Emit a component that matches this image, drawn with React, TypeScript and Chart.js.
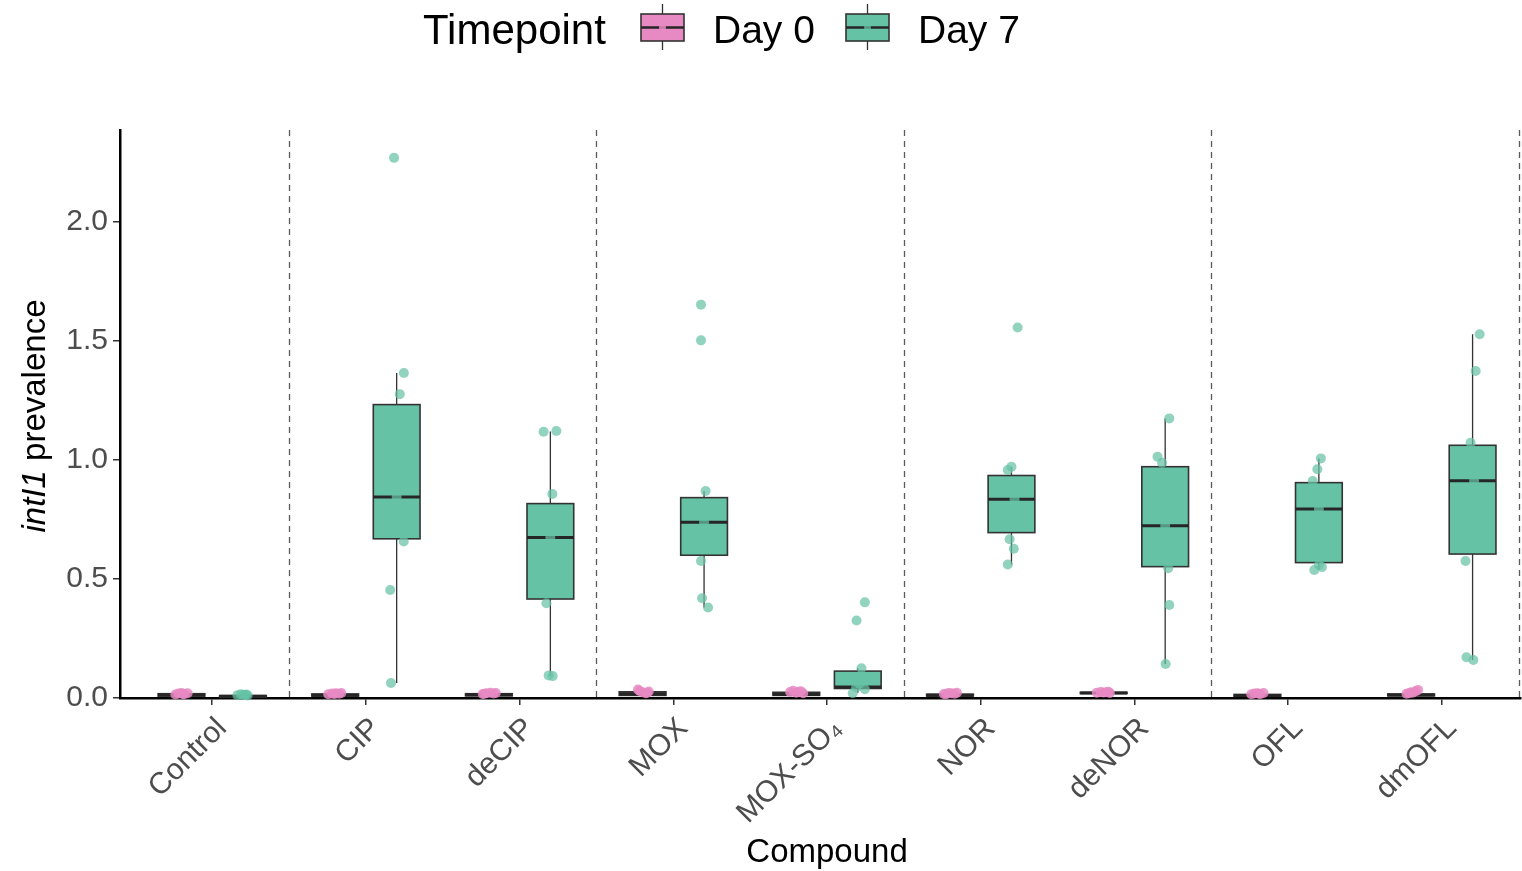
import React, { useEffect, useRef } from 'react';
import { Chart, registerables } from 'chart.js';

Chart.register(...registerables);

const FONT = '"Liberation Sans", Arial, Helvetica, sans-serif';

// Categories and axis ticks
const compounds = ['Control', 'CIP', 'deCIP', 'MOX', 'MOX-SO\u2084', 'NOR', 'deNOR', 'OFL', 'dmOFL'];
const yTickValues = [0, 0.5, 1, 1.5, 2];
const separators = [0.5, 2.5, 4.5, 6.5, 8.5];
const timepoints = ['Day 0', 'Day 7'];

// Day 0 box statistics (per compound)
const day0Low = [0.005, 0.005, 0.006, 0.007, 0.007, 0.005, 0.016, 0.004, 0.006];
const day0Q1 = [0.008, 0.008, 0.009, 0.011, 0.011, 0.008, 0.019, 0.007, 0.009];
const day0Median = [0.013, 0.012, 0.014, 0.018, 0.016, 0.012, 0.021, 0.011, 0.013];
const day0Q3 = [0.018, 0.017, 0.018, 0.026, 0.024, 0.016, 0.024, 0.015, 0.017];
const day0High = [0.022, 0.021, 0.022, 0.036, 0.03, 0.021, 0.027, 0.02, 0.034];

// Day 7 box statistics (per compound)
const day7Low = [0.002, 0.063, 0.092, 0.38, 0.022, 0.561, 0.143, 0.538, 0.16];
const day7Q1 = [0.004, 0.669, 0.416, 0.6, 0.04, 0.695, 0.552, 0.569, 0.605];
const day7Median = [0.007, 0.845, 0.674, 0.739, 0.046, 0.835, 0.724, 0.794, 0.913];
const day7Q3 = [0.01, 1.233, 0.817, 0.842, 0.113, 0.935, 0.972, 0.905, 1.062];
const day7High = [0.016, 1.366, 1.12, 0.87, 0.125, 0.972, 1.175, 1.007, 1.529];

// Individual samples (values) and their horizontal jitter (category units)
const day0Values = [
  [0.015, 0.019, 0.021, 0.017, 0.02, 0.016],
  [0.016, 0.019, 0.02, 0.018, 0.021, 0.017],
  [0.017, 0.02, 0.022, 0.019, 0.021, 0.018],
  [0.036, 0.03, 0.024, 0.02, 0.027, 0.022],
  [0.03, 0.025, 0.022, 0.028, 0.02, 0.026],
  [0.017, 0.021, 0.02, 0.018, 0.022, 0.016],
  [0.022, 0.025, 0.023, 0.024, 0.021, 0.026],
  [0.016, 0.019, 0.02, 0.017, 0.021, 0.018],
  [0.034, 0.028, 0.022, 0.018, 0.024, 0.02],
];
const day0Jitter = [
  [-0.04, -0.02, 0.0, 0.02, 0.04, 0.01],
  [-0.045, -0.02, 0.005, 0.025, 0.04, -0.005],
  [-0.04, -0.015, 0.01, 0.03, 0.045, -0.03],
  [-0.03, -0.02, 0.0, 0.02, 0.04, 0.03],
  [-0.02, -0.04, 0.0, 0.03, 0.045, 0.015],
  [-0.04, -0.01, 0.01, 0.03, 0.045, -0.025],
  [-0.045, -0.02, 0.0, 0.02, 0.04, 0.03],
  [-0.04, -0.02, 0.0, 0.02, 0.04, 0.01],
  [0.045, 0.03, 0.01, -0.03, 0.0, -0.015],
];
const day7Values = [
  [0.012, 0.016, 0.014, 0.013, 0.011, 0.015],
  [2.27, 1.366, 1.277, 0.845, 0.658, 0.454, 0.063],
  [1.119, 1.122, 0.857, 0.674, 0.398, 0.095, 0.092],
  [1.653, 1.503, 0.87, 0.739, 0.576, 0.419, 0.38],
  [0.402, 0.326, 0.125, 0.06, 0.037, 0.02, 0.045],
  [1.557, 0.972, 0.958, 0.835, 0.667, 0.627, 0.561],
  [1.175, 1.014, 0.989, 0.724, 0.545, 0.391, 0.143],
  [1.007, 0.961, 0.912, 0.794, 0.559, 0.538, 0.55],
  [1.529, 1.374, 1.073, 0.913, 0.576, 0.171, 0.16],
];
const day7Jitter = [
  [-0.036, -0.015, 0.0, 0.015, 0.03, 0.022],
  [-0.017, 0.047, 0.02, 0.0, 0.046, -0.042, -0.037],
  [-0.044, 0.039, 0.013, 0.0, -0.026, -0.011, 0.015],
  [-0.02, -0.02, 0.01, 0.0, -0.02, -0.013, 0.026],
  [0.046, -0.008, 0.024, 0.01, 0.046, -0.033, -0.01],
  [0.04, 0.0, -0.024, 0.02, -0.012, 0.015, -0.024],
  [0.027, -0.05, -0.02, 0.0, 0.02, 0.027, 0.003],
  [0.013, -0.01, -0.04, 0.0, 0.0, -0.03, 0.02],
  [0.046, 0.02, -0.013, 0.01, -0.046, -0.04, 0.005],
];

const PINK = '#E78AC3';
const TEAL = '#66C2A5';
const PINK_PT = 'rgba(231,138,195,0.85)';
const TEAL_PT = 'rgba(102,194,165,0.72)';
const DODGE = 0.2;
const HALF_BOX = 0.152;

const groups = [
  { offset: -DODGE, fill: PINK, low: day0Low, q1: day0Q1, med: day0Median, q3: day0Q3, high: day0High },
  { offset: DODGE, fill: TEAL, low: day7Low, q1: day7Q1, med: day7Median, q3: day7Q3, high: day7High },
];

const boxPlugin = {
  id: 'boxes',
  beforeDatasetsDraw(chart: any) {
    const { ctx, chartArea } = chart;
    const x = chart.scales.x;
    const y = chart.scales.y;
    ctx.save();
    ctx.strokeStyle = '#5a5a5a';
    ctx.lineWidth = 1.3;
    ctx.setLineDash([6, 5]);
    separators.forEach((v) => {
      const px = Math.round(x.getPixelForValue(v)) + 0.5;
      ctx.beginPath();
      ctx.moveTo(px, chartArea.top);
      ctx.lineTo(px, chartArea.bottom);
      ctx.stroke();
    });
    ctx.setLineDash([]);
    groups.forEach((g) => {
      compounds.forEach((_, i) => {
        const c = i + g.offset;
        const xl = x.getPixelForValue(c - HALF_BOX);
        const xr = x.getPixelForValue(c + HALF_BOX);
        const xc = x.getPixelForValue(c);
        const yLow = y.getPixelForValue(g.low[i]);
        const yQ1 = y.getPixelForValue(g.q1[i]);
        const yMed = y.getPixelForValue(g.med[i]);
        const yQ3 = y.getPixelForValue(g.q3[i]);
        const yHigh = y.getPixelForValue(g.high[i]);
        ctx.strokeStyle = '#333333';
        ctx.lineWidth = 1.3;
        ctx.beginPath();
        ctx.moveTo(xc, yHigh);
        ctx.lineTo(xc, yQ3);
        ctx.moveTo(xc, yQ1);
        ctx.lineTo(xc, yLow);
        ctx.stroke();
        ctx.fillStyle = g.fill;
        ctx.fillRect(xl, yQ3, xr - xl, yQ1 - yQ3);
        ctx.lineWidth = 1.6;
        ctx.strokeRect(xl, yQ3, xr - xl, yQ1 - yQ3);
        ctx.strokeStyle = '#262626';
        ctx.lineWidth = 3;
        ctx.beginPath();
        ctx.moveTo(xl, yMed);
        ctx.lineTo(xr, yMed);
        ctx.stroke();
      });
    });
    ctx.restore();
  },
};

function drawKey(ctx: CanvasRenderingContext2D, x0: number, fill: string, pt: string) {
  const w = 43;
  const top = 14;
  const bottom = 41;
  const cx = x0 + w / 2;
  ctx.strokeStyle = '#333333';
  ctx.lineWidth = 1.3;
  ctx.beginPath();
  ctx.moveTo(cx, 4);
  ctx.lineTo(cx, top);
  ctx.moveTo(cx, bottom);
  ctx.lineTo(cx, 50);
  ctx.stroke();
  ctx.fillStyle = fill;
  ctx.fillRect(x0, top, w, bottom - top);
  ctx.lineWidth = 1.6;
  ctx.strokeRect(x0, top, w, bottom - top);
  ctx.strokeStyle = '#262626';
  ctx.lineWidth = 2.5;
  ctx.beginPath();
  ctx.moveTo(x0, (top + bottom) / 2);
  ctx.lineTo(x0 + w, (top + bottom) / 2);
  ctx.stroke();
  ctx.fillStyle = pt;
  ctx.beginPath();
  ctx.arc(cx, (top + bottom) / 2, 3.5, 0, Math.PI * 2);
  ctx.fill();
}

const textPlugin = {
  id: 'texts',
  afterDraw(chart: any) {
    const { ctx, chartArea } = chart;
    const x = chart.scales.x;
    ctx.save();
    // Legend
    ctx.fillStyle = '#000';
    ctx.textBaseline = 'alphabetic';
    ctx.textAlign = 'left';
    ctx.font = `42px ${FONT}`;
    ctx.fillText('Timepoint', 423, 44);
    drawKey(ctx, 641, PINK, PINK_PT);
    ctx.fillStyle = '#000';
    ctx.font = `39px ${FONT}`;
    ctx.fillText(timepoints[0], 713, 43);
    drawKey(ctx, 846, TEAL, TEAL_PT);
    ctx.fillStyle = '#000';
    ctx.font = `39px ${FONT}`;
    ctx.fillText(timepoints[1], 918, 43);

    // X title
    ctx.font = `33px ${FONT}`;
    ctx.textAlign = 'center';
    ctx.fillText('Compound', x.getPixelForValue(4), 862);

    // Y title (rotated, italic gene name)
    const yc = (chartArea.top + chartArea.bottom) / 2 + 2;
    ctx.translate(45, yc);
    ctx.rotate(-Math.PI / 2);
    ctx.textAlign = 'left';
    const italic = `italic 33px ${FONT}`;
    const normal = `33px ${FONT}`;
    ctx.font = italic;
    const w1 = ctx.measureText('intI1').width;
    ctx.font = normal;
    const w2 = ctx.measureText(' prevalence').width;
    const start = -(w1 + w2) / 2;
    ctx.font = italic;
    ctx.fillText('intI1', start, 0);
    ctx.font = normal;
    ctx.fillText(' prevalence', start + w1, 0);
    ctx.restore();
  },
};

export default function App() {
  const canvasRef = useRef<HTMLCanvasElement | null>(null);

  useEffect(() => {
    if (!canvasRef.current) return;
    const day0Data: { x: number; y: number }[] = [];
    const day7Data: { x: number; y: number }[] = [];
    compounds.forEach((_, i) => {
      day0Values[i].forEach((v, j) => day0Data.push({ x: i - DODGE + day0Jitter[i][j], y: v }));
      day7Values[i].forEach((v, j) => day7Data.push({ x: i + DODGE + day7Jitter[i][j], y: v }));
    });
    const gridCfg = {
      drawOnChartArea: false,
      drawTicks: true,
      tickLength: 7,
      color: '#333333',
      lineWidth: 1.5,
    };
    const chart = new Chart(canvasRef.current, {
      type: 'scatter',
      data: {
        datasets: [
          {
            label: timepoints[0],
            data: day0Data,
            backgroundColor: PINK_PT,
            borderWidth: 0,
            pointRadius: 5,
            clip: false as any,
          },
          {
            label: timepoints[1],
            data: day7Data,
            backgroundColor: TEAL_PT,
            borderWidth: 0,
            pointRadius: 5,
            clip: false as any,
          },
        ],
      },
      options: {
        responsive: false,
        animation: false,
        layout: { autoPadding: false, padding: { top: 130, right: 1, left: 0, bottom: 0 } },
        plugins: {
          legend: { display: false },
          tooltip: { enabled: false },
        },
        scales: {
          x: {
            type: 'linear',
            min: -0.6,
            max: 8.515,
            afterBuildTicks: (s: any) => {
              s.ticks = compounds.map((_, i) => ({ value: i }));
            },
            afterFit: (s: any) => {
              s.height = 173;
            },
            ticks: {
              autoSkip: false,
              minRotation: 45,
              maxRotation: 45,
              color: '#4D4D4D',
              padding: 6,
              labelOffset: 10,
              font: { family: FONT, size: 30 },
              callback: (v: any) => compounds[Math.round(Number(v))] ?? '',
            },
            grid: gridCfg,
            border: { display: true, color: '#000', width: 2.5 },
          },
          y: {
            type: 'linear',
            min: 0,
            max: 2.387,
            afterBuildTicks: (s: any) => {
              s.ticks = yTickValues.map((v) => ({ value: v }));
            },
            afterFit: (s: any) => {
              s.width = 120;
            },
            ticks: {
              color: '#4D4D4D',
              padding: 5,
              font: { family: FONT, size: 30 },
              callback: (v: any) => Number(v).toFixed(1),
            },
            grid: gridCfg,
            border: { display: true, color: '#000', width: 2.5 },
          },
        },
      } as any,
      plugins: [boxPlugin, textPlugin],
    });
    return () => chart.destroy();
  }, []);

  return (
    <div style={{ position: 'absolute', left: 0, top: 0, width: 1522, height: 871, background: '#fff' }}>
      <canvas ref={canvasRef} width={1522} height={871} style={{ display: 'block' }} />
    </div>
  );
}
